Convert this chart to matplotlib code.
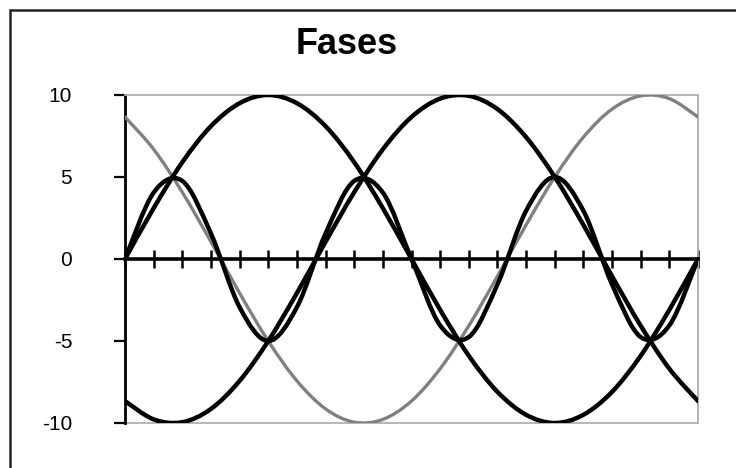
import matplotlib
matplotlib.use("Agg")
import matplotlib.pyplot as plt
import numpy as np
from matplotlib.patches import PathPatch, Rectangle
from matplotlib.path import Path

# Ángulo eléctrico (grados), una muestra cada 18°
ANGULOS = [0, 18, 36, 54, 72, 90, 108, 126, 144, 162, 180,
           198, 216, 234, 252, 270, 288, 306, 324, 342, 360]

# Tensiones de fase (amplitud 10)
FASE_A = [0.0, 3.1, 5.9, 8.1, 9.5, 10.0, 9.5, 8.1, 5.9, 3.1, 0.0,
          -3.1, -5.9, -8.1, -9.5, -10.0, -9.5, -8.1, -5.9, -3.1, 0.0]
FASE_B = [-8.66, -9.78, -9.95, -9.14, -7.43, -5.0, -2.08, 1.05, 4.07, 6.69, 8.66,
          9.78, 9.95, 9.14, 7.43, 5.0, 2.08, -1.05, -4.07, -6.69, -8.66]
FASE_C = [8.66, 6.69, 4.07, 1.05, -2.08, -5.0, -7.43, -9.14, -9.95, -9.78, -8.66,
          -6.69, -4.07, -1.05, 2.08, 5.0, 7.43, 9.14, 9.95, 9.78, 8.66]
# Tercer armónico (amplitud 5), común a las tres fases
ARMONICO_3 = [0.0, 4.05, 4.76, 1.55, -2.94, -5.0, -2.94, 1.55, 4.76, 4.05, 0.0,
              -4.05, -4.76, -1.55, 2.94, 5.0, 2.94, -1.55, -4.76, -4.05, 0.0]

Y_TICKS = [-10, -5, 0, 5, 10]
TITULO = "Fases"

W, H = 736, 468


def linea_suavizada(xs, ys):
    # Curva Bézier que pasa por todos los puntos (como la "línea suavizada" de Excel)
    pts = np.column_stack([np.asarray(xs, float), np.asarray(ys, float)])
    n = len(pts)
    verts = [pts[0]]
    codes = [Path.MOVETO]
    for i in range(n - 1):
        p0 = pts[i - 1] if i > 0 else pts[i]
        p1 = pts[i]
        p2 = pts[i + 1]
        p3 = pts[i + 2] if i + 2 < n else pts[i + 1]
        verts += [p1 + (p2 - p0) / 6.0, p2 - (p3 - p1) / 6.0, p2]
        codes += [Path.CURVE4] * 3
    return Path(verts, codes)


plt.rcParams["font.family"] = ["Liberation Sans", "DejaVu Sans"]

fig = plt.figure(figsize=(W / 100, H / 100), dpi=100)
fig.patch.set_facecolor("white")

# marco exterior del gráfico
fig.add_artist(Rectangle((10 / W, -0.05), 1.1, 1 - 10 / H + 0.05,
                         transform=fig.transFigure, fill=False,
                         edgecolor="#222222", linewidth=1.8))

fig.text(347 / W, 1 - 45 / H, TITULO, ha="center", va="center",
         fontsize=26, fontweight="bold")

ax = fig.add_axes([125 / W, 1 - 423 / H, (698 - 125) / W, (423 - 95) / H])
ax.set_xlim(ANGULOS[0], ANGULOS[-1])
ax.set_ylim(-10, 10)

series = [
    (FASE_C, "#808080", 2.4),
    (FASE_A, "black", 3.2),
    (FASE_B, "black", 3.2),
    (ARMONICO_3, "black", 3.2),
]
for valores, color, lw in series:
    ax.add_patch(PathPatch(linea_suavizada(ANGULOS, valores), fill=False,
                           edgecolor=color, linewidth=lw,
                           joinstyle="round", capstyle="round", zorder=3))

# borde del área de trazado
for lado in ("top", "right"):
    ax.spines[lado].set_color("#b0b0b0")
    ax.spines[lado].set_linewidth(1.3)
ax.axhline(-10, color="#b0b0b0", linewidth=1.3, clip_on=False, zorder=1)

ax.spines["left"].set_color("black")
ax.spines["left"].set_linewidth(2.0)
ax.spines["bottom"].set_position(("data", 0))
ax.spines["bottom"].set_color("black")
ax.spines["bottom"].set_linewidth(2.6)

ax.set_xticks(ANGULOS)
ax.set_xticklabels([])
ax.tick_params(axis="x", direction="inout", length=13, width=1.8, color="black")

ax.set_yticks(Y_TICKS)
ax.set_yticklabels([str(v) for v in Y_TICKS])
ax.tick_params(axis="y", direction="out", length=8, width=1.6, color="black",
               pad=30, labelsize=15)

fig.savefig("out.png", dpi=100)
